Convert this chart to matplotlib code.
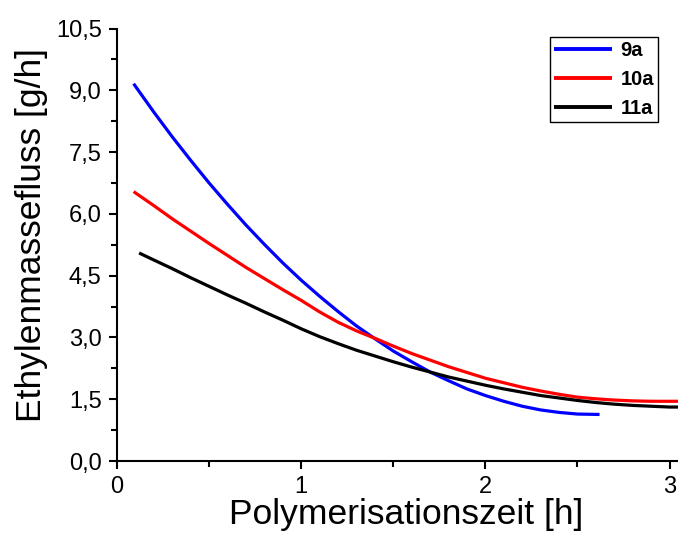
import matplotlib
matplotlib.use("Agg")
import matplotlib.pyplot as plt
from matplotlib.ticker import MultipleLocator, FuncFormatter

plt.rcParams['font.family'] = ['Liberation Sans', 'DejaVu Sans']

# Ethylene mass flow over polymerisation time
t_9a = [0.09, 0.2, 0.3, 0.4, 0.5, 0.6, 0.7, 0.8, 0.9, 1.0, 1.1, 1.2, 1.3, 1.4,
        1.5, 1.6, 1.7, 1.8, 1.9, 2.0, 2.1, 2.2, 2.3, 2.4, 2.5, 2.62]
flow_9a = [9.16, 8.47, 7.87, 7.30, 6.75, 6.23, 5.73, 5.26, 4.81, 4.39, 4.00, 3.63,
           3.28, 2.97, 2.67, 2.41, 2.16, 1.95, 1.75, 1.59, 1.45, 1.33, 1.24, 1.18,
           1.14, 1.13]

t_10a = [0.09, 0.2, 0.3, 0.4, 0.5, 0.6, 0.7, 0.8, 0.9, 1.0, 1.1, 1.2, 1.3, 1.4,
         1.5, 1.6, 1.7, 1.8, 1.9, 2.0, 2.1, 2.2, 2.3, 2.4, 2.5, 2.6, 2.7, 2.8,
         2.9, 3.0, 3.06]
flow_10a = [6.54, 6.20, 5.88, 5.58, 5.28, 4.99, 4.70, 4.43, 4.16, 3.90, 3.62, 3.37,
            3.16, 2.98, 2.79, 2.61, 2.45, 2.29, 2.15, 2.01, 1.90, 1.79, 1.70, 1.62,
            1.55, 1.51, 1.48, 1.46, 1.45, 1.45, 1.45]

t_11a = [0.12, 0.2, 0.3, 0.4, 0.5, 0.6, 0.7, 0.8, 0.9, 1.0, 1.1, 1.2, 1.3, 1.4,
         1.5, 1.6, 1.7, 1.8, 1.9, 2.0, 2.1, 2.2, 2.3, 2.4, 2.5, 2.6, 2.7, 2.8,
         2.9, 3.0, 3.06]
flow_11a = [5.05, 4.88, 4.67, 4.45, 4.24, 4.03, 3.83, 3.62, 3.42, 3.21, 3.02, 2.85,
            2.69, 2.55, 2.41, 2.28, 2.16, 2.04, 1.94, 1.84, 1.75, 1.67, 1.59, 1.53,
            1.47, 1.42, 1.38, 1.35, 1.33, 1.31, 1.31]

series = [
    ("9a", t_9a, flow_9a, "#0000ff"),
    ("10a", t_10a, flow_10a, "#ff0000"),
    ("11a", t_11a, flow_11a, "#000000"),
]

fig = plt.figure(figsize=(6.78, 5.35), dpi=100)
ax = fig.add_axes([0.1726, 0.1383, 0.8274, 0.8084])

for label, t, f, c in series:
    ax.plot(t, f, color=c, lw=2.3, label=label, solid_capstyle='butt')

ax.set_xlim(0, 3.046)
ax.set_ylim(0, 10.5)

ax.xaxis.set_major_locator(MultipleLocator(1))
ax.xaxis.set_minor_locator(MultipleLocator(0.5))
ax.yaxis.set_major_locator(MultipleLocator(1.5))
ax.yaxis.set_minor_locator(MultipleLocator(0.75))
ax.yaxis.set_major_formatter(FuncFormatter(lambda v, p: f"{v:.1f}".replace('.', ',')))
ax.xaxis.set_major_formatter(FuncFormatter(lambda v, p: f"{v:.0f}"))

for s in ('top', 'right'):
    ax.spines[s].set_visible(False)
for s in ('left', 'bottom'):
    ax.spines[s].set_linewidth(1.5)

ax.tick_params(which='major', direction='out', length=6, width=1.5, labelsize=17, pad=5)
ax.tick_params(which='minor', direction='out', length=4, width=1.5)

ax.set_xlabel("Polymerisationszeit [h]", fontsize=25.5)
ax.set_ylabel("Ethylenmassefluss [g/h]", fontsize=25.5)
ax.xaxis.set_label_coords(0.516, -0.086)
ax.yaxis.set_label_coords(-0.123, 0.5225)

leg = ax.legend(loc='upper right', bbox_to_anchor=(0.964, 0.98), borderaxespad=0,
                frameon=True, fancybox=False, edgecolor='black', framealpha=1,
                prop={'weight': 'bold', 'size': 14.5}, handlelength=2.9,
                handletextpad=0.4, borderpad=0.2, labelspacing=0.5)
leg.get_frame().set_linewidth(1.0)
for h in leg.get_lines():
    h.set_linewidth(2.8)

fig.savefig("out.png", dpi=100)
